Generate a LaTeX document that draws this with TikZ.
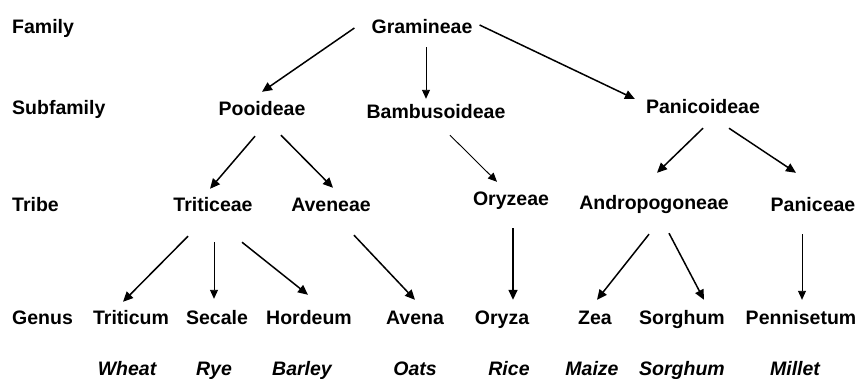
\documentclass[tikz,border=0pt]{standalone}
\usepackage{fontspec}
\setmainfont{Liberation Sans}
\usetikzlibrary{arrows.meta}

\begin{document}
\begin{tikzpicture}
[x=1pt,y=-1pt,
 taxon/.style={anchor=base,inner sep=0pt,text height=14pt,text depth=4pt,
   font=\bfseries\fontsize{19.5}{23}\selectfont},
 rank/.style={taxon,anchor=base west},
 crop/.style={taxon,font=\bfseries\itshape\fontsize{19.5}{23}\selectfont},
 arr/.style={line width=1.5pt,-{Triangle[length=10pt,width=9pt]}},
 thin/.style={line width=0.9pt,-{Triangle[length=9pt,width=8pt]}}]
\useasboundingbox (0,0) rectangle (859,378);
% ranks
\node[rank] (lfam) at (12,33) {Family};
\node[rank] (lsub) at (12,114) {Subfamily};
\node[rank] (ltri) at (12,211) {Tribe};
\node[rank] (lgen) at (12,324) {Genus};
% family and subfamilies
\node[taxon] (gram) at (422,33) {Gramineae};
\node[taxon] (pooi) at (262,115) {Pooideae};
\node[taxon] (bamb) at (436,118) {Bambusoideae};
\node[taxon] (pani) at (703,113) {Panicoideae};
% tribes
\node[taxon] (trit) at (213,211) {Triticeae};
\node[taxon] (aven) at (331,211) {Aveneae};
\node[taxon] (oryz) at (511,205) {Oryzeae};
\node[taxon] (andr) at (654,209) {Andropogoneae};
\node[taxon] (panc) at (813,211) {Paniceae};
% genera
\node[taxon] (gtrit) at (131,324) {Triticum};
\node[taxon] (secl) at (217,324) {Secale};
\node[taxon] (hord) at (309,324) {Hordeum};
\node[taxon] (avna) at (415,324) {Avena};
\node[taxon] (oryza) at (502,324) {Oryza};
\node[taxon] (zea) at (595,324) {Zea};
\node[taxon] (sorg) at (682,324) {Sorghum};
\node[taxon] (penn) at (801,324) {Pennisetum};
% crops
\node[crop] (wheat) at (127,375) {Wheat};
\node[crop] (rye) at (214,375) {Rye};
\node[crop] (barley) at (302,375) {Barley};
\node[crop] (oats) at (415,375) {Oats};
\node[crop] (rice) at (509,375) {Rice};
\node[crop] (maize) at (592,375) {Maize};
\node[crop] (csorg) at (682,375) {Sorghum};
\node[crop] (millet) at (795,375) {Millet};
% arrows
\draw[arr] ([xshift=-17pt]gram.west) -- ([yshift=9pt]pooi.north);
\draw[thin] ([xshift=4pt,yshift=-10pt]gram.south) -- ([xshift=-10pt,yshift=5pt]bamb.north);
\draw[arr] ([xshift=7pt,yshift=3pt]gram.east) -- ([xshift=-11pt,yshift=9pt]pani.west);
\draw[arr] ([xshift=-7pt,yshift=-17pt]pooi.south) -- ([xshift=-3pt,yshift=8pt]trit.north);
\draw[arr] ([xshift=19pt,yshift=-16pt]pooi.south) -- ([xshift=2pt,yshift=9pt]aven.north);
\draw[thin] ([xshift=14pt,yshift=-13pt]bamb.south) -- ([xshift=-14pt,yshift=9pt]oryz.north);
\draw[arr] ([yshift=-11pt]pani.south) -- ([xshift=3pt,yshift=22pt]andr.north);
\draw[arr] ([xshift=26pt,yshift=-11pt]pani.south) -- ([xshift=-17pt,yshift=24pt]panc.north);
\draw[arr] ([xshift=-25pt,yshift=-21pt]trit.south) -- ([xshift=-8pt,yshift=8pt]gtrit.north);
\draw[thin] ([xshift=1pt,yshift=-27pt]trit.south) -- ([xshift=-3pt,yshift=11pt]secl.north);
\draw[arr] ([xshift=29pt,yshift=-27pt]trit.south) -- ([xshift=-1pt,yshift=15pt]hord.north);
\draw[arr] ([xshift=23pt,yshift=-20pt]aven.south) -- ([yshift=10pt]avna.north);
\draw[arr] ([xshift=2pt,yshift=-19pt]oryz.south) -- ([xshift=11pt,yshift=10pt]oryza.north);
\draw[arr] ([xshift=-5pt,yshift=-21pt]andr.south) -- ([xshift=2pt,yshift=10pt]zea.north);
\draw[arr] ([xshift=15pt,yshift=-20pt]andr.south) -- ([xshift=22pt,yshift=10pt]sorg.north);
\draw[thin] ([xshift=-11pt,yshift=-19pt]panc.south) -- ([xshift=1pt,yshift=10pt]penn.north);
\end{tikzpicture}
\end{document}
